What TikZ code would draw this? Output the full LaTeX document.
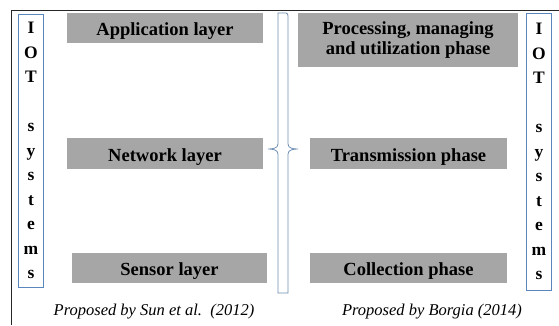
\documentclass[tikz,border=0pt]{standalone}
\usepackage{fontspec}
\setmainfont{Liberation Serif}
\usetikzlibrary{positioning}
\tikzset{px/.style={x=1pt,y=-1pt,every node/.style={inner sep=0pt,outer sep=0pt,anchor=center,align=center}}}
\definecolor{cxcinza}{HTML}{A6A6A6}
\definecolor{cxazul}{HTML}{5A86BE}
\definecolor{chaveazul}{HTML}{6F8FB3}
\definecolor{tdline}{HTML}{262626}
\tikzset{
  caixa/.style={fill=cxcinza,text=black,font=\fontsize{18.5}{20}\selectfont\bfseries},
  camada/.style={caixa,text height=15pt,text depth=0pt},
  iot/.style={draw=cxazul,line width=0.9pt,fill=white,minimum width=25pt,font=\fontsize{17.5}{24.5}\selectfont\bfseries},
  chave/.style={draw=chaveazul,line width=0.8pt},
  legenda/.style={anchor=base,font=\fontsize{16.5}{18}\selectfont\itshape},
  moldura/.style={draw=tdline,line width=0.8pt},
}

\begin{document}
\begin{tikzpicture}[px]
  \useasboundingbox (0,0) rectangle (559,325);
  \draw[moldura] (559,10.5) -- (11.5,10.5) -- (11.5,325);
  % Sun et al.
  \node[camada,minimum width=196pt,minimum height=30pt] (aplic) at (165,28) {Application layer};
  \node[camada,minimum width=196pt,minimum height=31pt] (rede) at (165,153.5) {Network layer};
  \node[camada,minimum width=195pt,minimum height=30pt] (sensor) at (169.5,268) {Sensor layer};
  % Borgia
  \node[caixa,minimum width=220pt,minimum height=54pt] (proc) at (408,40) {Processing, managing\\and utilization phase};
  \node[camada,minimum width=197pt,minimum height=31pt] (trans) at (408.5,153.5) {Transmission phase};
  \node[camada,minimum width=197pt,minimum height=30pt] (colet) at (408.5,268) {Collection phase};
  % IOT systems
  \node[iot,minimum height=273pt] (iotesq) at (31,150.5) {I\\O\\T\\\phantom{s}\\s\\y\\s\\t\\e\\m\\s};
  \node[iot,minimum height=277pt] (iotdir) at (539,151.5) {I\\O\\T\\\phantom{s}\\s\\y\\s\\t\\e\\m\\s};
  % chave
  \draw[chave] (278,13) -- (286,13) to[out=0,in=90] (288,16) -- (288,144) to[out=-90,in=180] (298,149)
    to[out=180,in=90] (288,154) -- (288,293) -- (278,293) -- (278,154)
    to[out=90,in=0] (268,149) to[out=0,in=-90] (278,144) -- cycle;
  \node[legenda] (sun) at (154,315) {Proposed by Sun et al.\ \ (2012)};
  \node[legenda] (borgia) at (432,315) {Proposed by Borgia (2014)};
\end{tikzpicture}
\end{document}
